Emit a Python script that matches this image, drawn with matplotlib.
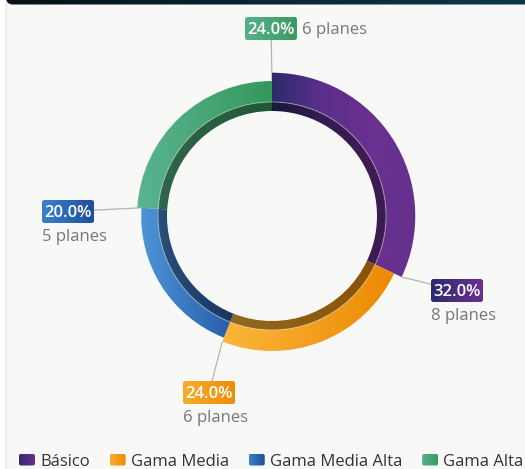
"""Donut chart: planes by tier."""

import numpy as np
import matplotlib

matplotlib.use("Agg")
import matplotlib.pyplot as plt
from matplotlib.patches import Wedge, FancyBboxPatch, Arc
from matplotlib.colors import LinearSegmentedColormap, to_rgb

plt.rcParams["font.family"] = ["Open Sans", "DejaVu Sans"]

# --- data -------------------------------------------------------------
CATEGORIES = ["Básico", "Gama Media", "Gama Media Alta", "Gama Alta"]
PLANES = [8, 6, 5, 6]
UNIT = "planes"

# --- style ------------------------------------------------------------
# left -> right gradient stops for each slice
SLICE_STOPS = [
    ["#2c2b6c", "#5a2f8a", "#6a3091", "#65308c"],
    ["#fbb73a", "#f4a020", "#ec8a00"],
    ["#4d95d5", "#3a78c0", "#2a5ca5"],
    ["#5ab491", "#47a675", "#35975c"],
]
BADGE_STOPS = [
    ["#2e2a70", "#6a3092"],
    ["#f8ac2c", "#ee8c06"],
    ["#3a82cb", "#1f4e9c"],
    ["#57b08c", "#3a9a62"],
]
BG = "#f8f8f6"
CX, CY = 272, 216          # centre in pixels (y down)
R_IN, R_MID = 105, 114     # hole and inner (dark) band
R_BASE, R_STEP = 110, 4.16  # outer radius grows with value
BADGE_W, BADGE_H = 52, 23
BADGE_XY = [(431, 279), (183, 381), (42, 200), (245, 17)]
NOTE_BELOW = [True, True, True, False]


def darken(c, f=0.58):
    return tuple(v * f for v in to_rgb(c))


def fill_gradient(ax, patch, stops, x0, x1, z):
    patch.set_facecolor("none")
    patch.set_edgecolor("none")
    ax.add_patch(patch)
    cmap = LinearSegmentedColormap.from_list("g", stops)
    grad = np.linspace(0, 1, 256).reshape(1, -1)
    im = ax.imshow(grad, cmap=cmap, extent=(x0, x1, 0, 469), aspect="auto",
                   interpolation="bilinear", zorder=z)
    im.set_clip_path(patch)


def ring_point(phi, r):
    a = np.radians(phi)
    return CX + r * np.sin(a), CY - r * np.cos(a)


fig = plt.figure(figsize=(5.25, 4.69), dpi=100)
fig.patch.set_facecolor("white")
ax = fig.add_axes([0, 0, 1, 1])
ax.axis("off")

# card + header strip
card = FancyBboxPatch((6, -20), 540, 520, boxstyle="round,pad=0,rounding_size=9",
                      fc=BG, ec="#e4e4e2", lw=0.8, zorder=0)
ax.add_patch(card)
head = FancyBboxPatch((6, -20), 540, 24.5, boxstyle="round,pad=0,rounding_size=7")
fill_gradient(ax, head, ["#061218", "#0a2733", "#0d3a4b"], 6, 546, 1)

total = sum(PLANES)
ends = np.cumsum(PLANES) / total * 360
starts = ends - np.array(PLANES) / total * 360

for i, v in enumerate(PLANES):
    s, e = starts[i], ends[i]
    r_out = R_BASE + R_STEP * v
    phis = np.linspace(s, e, 200)
    xs = np.concatenate([CX + r_out * np.sin(np.radians(phis)),
                         CX + R_IN * np.sin(np.radians(phis))])
    x0, x1 = xs.min(), xs.max()
    outer = Wedge((CX, CY), r_out, s - 90, e - 90, width=r_out - R_MID)
    fill_gradient(ax, outer, SLICE_STOPS[i], x0, x1, 3)
    inner = Wedge((CX, CY), R_MID, s - 90, e - 90, width=R_MID - R_IN)
    fill_gradient(ax, inner, [darken(c) for c in SLICE_STOPS[i]], x0, x1, 3)
    ax.add_patch(Arc((CX, CY), 2 * R_MID, 2 * R_MID, theta1=s - 90, theta2=e - 90,
                     color="white", alpha=0.35, lw=0.8, zorder=4))

    # label at the end of each slice
    bx, by = BADGE_XY[i]
    px, py = ring_point(e, r_out)
    ax.plot([px, bx + BADGE_W / 2], [py, by + BADGE_H / 2], color="#b4b4b4",
            lw=0.9, zorder=2, solid_capstyle="butt")
    badge = FancyBboxPatch((bx, by), BADGE_W, BADGE_H,
                           boxstyle="round,pad=0,rounding_size=2.5")
    fill_gradient(ax, badge, BADGE_STOPS[i], bx, bx + BADGE_W, 5)
    pct = f"{v / total * 100:.1f}%"
    ax.text(bx + BADGE_W / 2, by + 17.3, pct, color="white", fontsize=12,
            fontweight="semibold", ha="center", va="baseline", zorder=6)
    note = f"{v} {UNIT}"
    if NOTE_BELOW[i]:
        ax.text(bx, by + BADGE_H + 18, note, color="#777777", fontsize=12,
                ha="left", va="baseline", zorder=6)
    else:
        ax.text(bx + BADGE_W + 5, by + 17.3, note, color="#777777", fontsize=12,
                ha="left", va="baseline", zorder=6)

ax.set_xlim(0, 525)
ax.set_ylim(469, 0)

# legend along the bottom
fig.canvas.draw()
renderer = fig.canvas.get_renderer()
lx = 19
for i, name in enumerate(CATEGORIES):
    sw = FancyBboxPatch((lx, 454), 16, 11.5, boxstyle="round,pad=0,rounding_size=2")
    fill_gradient(ax, sw, BADGE_STOPS[i], lx, lx + 16, 5)
    t = ax.text(lx + 21, 466, name, color="#333333", fontsize=12,
                ha="left", va="baseline", zorder=6)
    w = t.get_window_extent(renderer).width
    lx = lx + 21 + w + 20

ax.set_xlim(0, 525)
ax.set_ylim(469, 0)
fig.savefig("out.png", dpi=100, facecolor="white")
